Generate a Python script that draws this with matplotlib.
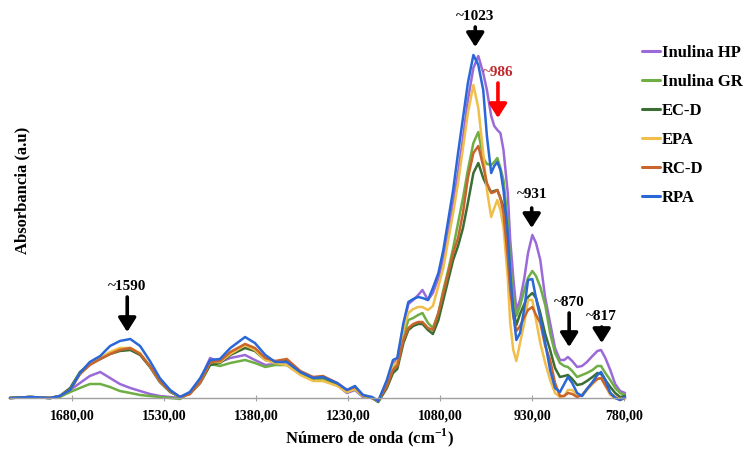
import numpy as np
import matplotlib
matplotlib.use("Agg")
import matplotlib.pyplot as plt

# ---------------- data (absorbance x 1000) ----------------
wavenumber = [1781, 1748, 1716, 1700, 1683, 1667, 1651, 1634, 1618, 1602,
              1585, 1569, 1553, 1537, 1520, 1504, 1488, 1471, 1455, 1439,
              1422, 1398, 1382, 1365, 1349, 1330, 1308, 1287, 1271, 1248,
              1232, 1219, 1206, 1191, 1181, 1167, 1157, 1150, 1140, 1132,
              1124, 1116, 1109, 1100, 1092, 1083, 1075, 1067, 1059, 1051,
              1043, 1035, 1026, 1018, 1010, 1004, 997, 992, 987, 982,
              977, 970, 966, 961, 956, 950, 943, 937, 930, 924,
              917, 909, 901, 893, 885, 878, 872, 865, 857, 849,
              841, 832, 824, 818, 811, 803, 795, 787, 779]

inulina_hp = [0, 1, 0, 1, 8, 15, 22, 26, 20, 14,
              10, 7, 4, 2, 1, 0, 5, 18, 40, 36,
              40, 43, 38, 33, 34, 33, 24, 18, 19, 13,
              5, 8, 1, 0, -3, 16, 34, 38, 72, 94,
              98, 103, 108, 98, 105, 120, 140, 165, 195, 225,
              260, 298, 330, 342, 325, 308, 282, 272, 268, 265,
              248, 205, 158, 120, 88, 98, 120, 145, 163, 155,
              138, 100, 75, 50, 38, 38, 41, 37, 31, 32,
              36, 42, 47, 48, 40, 28, 14, 7, 5]

inulina_gr = [0, 1, 0, 1, 6, 10, 14, 14, 11, 7,
              5, 3, 2, 1, 0, -1, 5, 16, 34, 32,
              35, 38, 35, 31, 33, 33, 24, 18, 19, 13,
              6, 9, 2, 0, -3, 12, 30, 33, 62, 78,
              80, 83, 85, 75, 70, 85, 108, 128, 150, 175,
              200, 228, 255, 266, 240, 234, 233, 236, 240, 230,
              218, 175, 135, 100, 82, 92, 108, 120, 127, 122,
              111, 93, 65, 45, 35, 32, 31, 27, 21, 23,
              25, 28, 32, 32, 25, 18, 10, 5, 3]

ec_d = [0, 1, 0, 2, 10, 26, 34, 39, 44, 47,
        48, 43, 31, 16, 6, 1, 4, 15, 33, 35,
        43, 50, 47, 38, 36, 37, 26, 20, 21, 14,
        7, 10, 2, 0, -4, 10, 25, 29, 55, 68,
        72, 74, 74, 68, 64, 78, 98, 118, 138, 152,
        170, 195, 225, 235, 220, 212, 206, 207, 208, 200,
        191, 150, 115, 88, 73, 84, 94, 101, 105, 100,
        85, 64, 48, 30, 21, 22, 23, 19, 13, 14,
        17, 21, 25, 24, 18, 11, 5, 1, 2]

epa = [0, 1, 0, 2, 8, 24, 34, 40, 46, 50,
       50, 45, 32, 17, 7, 1, 4, 16, 36, 36,
       44, 53, 48, 38, 35, 33, 23, 17, 17, 12,
       6, 9, 2, 0, -3, 15, 33, 36, 68, 85,
       89, 91, 91, 88, 92, 112, 130, 158, 185, 215,
       250, 285, 313, 290, 245, 208, 181, 190, 198, 188,
       171, 120, 75, 48, 37, 55, 75, 98, 98, 78,
       55, 35, 18, 5, 1, 2, 8, 8, 3, 2,
       8, 14, 19, 20, 12, 3, 0, -1, 0]

rc_d = [0, 1, 0, 2, 8, 24, 33, 39, 44, 48,
        50, 44, 32, 17, 7, 1, 4, 16, 36, 37,
        46, 54, 50, 40, 37, 39, 27, 21, 22, 15,
        8, 11, 3, 0, -3, 12, 28, 32, 58, 70,
        74, 76, 76, 70, 68, 85, 105, 125, 145, 160,
        185, 220, 245, 252, 232, 215, 205, 206, 208, 200,
        185, 140, 108, 82, 67, 72, 81, 88, 91, 83,
        75, 52, 38, 15, 2, 2, 5, 4, 1, 3,
        9, 15, 19, 20, 13, 5, 1, -2, 0]

rpa = [0, 1, 0, 2, 8, 25, 36, 42, 52, 57,
       59, 52, 37, 20, 8, 1, 6, 20, 38, 39,
       50, 61, 55, 43, 36, 36, 26, 20, 21, 15,
       8, 12, 3, 1, -3, 18, 38, 40, 75, 96,
       99, 101, 100, 98, 110, 125, 148, 178, 208, 245,
       280, 315, 343, 333, 308, 262, 225, 232, 236, 228,
       208, 165, 125, 85, 58, 65, 90, 118, 119, 100,
       80, 55, 28, 10, 6, 14, 21, 15, 5, 2,
       9, 16, 23, 26, 18, 5, 0, -2, 1]

series_names = ["Inulina HP", "Inulina GR", "EC-D", "EPA", "RC-D", "RPA"]
series_values = [inulina_hp, inulina_gr, ec_d, epa, rc_d, rpa]
series_colors = ["#9B6AD8", "#6FAE45", "#3B6E33", "#F0BE4A", "#C8642C", "#2A68D8"]

tick_values = [1680, 1530, 1380, 1230, 1080, 930, 780]
tick_labels = ["1680,00", "1530,00", "1380,00", "1230,00", "1080,00", "930,00", "780,00"]

# peak annotations: (label, wavenumber, text_y, arrow_tail_y, arrow_tip_y, text colour, arrow colour)
peak_labels = [("~1590", 1590, 0.112, 0.101, 0.066, "black", "black"),
               ("~1023", 1023, 0.381, 0.371, 0.351, "black", "black"),
               ("~986", 986, 0.325, 0.315, 0.280, "#C0282D", "#FF0000"),
               ("~931", 931, 0.203, 0.190, 0.170, "black", "black"),
               ("~870", 870, 0.096, 0.085, 0.051, "black", "black"),
               ("~817", 817, 0.081, 0.071, 0.055, "black", "black")]

# ---------------- figure ----------------
serif = ["Liberation Serif", "DejaVu Serif"]
plt.rcParams["font.family"] = serif
plt.rcParams["font.weight"] = "bold"
plt.rcParams["mathtext.fontset"] = "custom"
plt.rcParams["mathtext.rm"] = "Liberation Serif:bold"
plt.rcParams["mathtext.bf"] = "Liberation Serif:bold"

fig = plt.figure(figsize=(7.51, 4.55), dpi=100)
ax = fig.add_axes([10 / 751, 1 - 398 / 455, 615 / 751, 360 / 455])

x = np.array(wavenumber, dtype=float)
for name, vals, col in zip(series_names, series_values, series_colors):
    ax.plot(x, np.array(vals) / 1000.0, color=col, lw=1.8, label=name,
            clip_on=False, solid_joinstyle="round", solid_capstyle="round")

ax.set_xlim(1781, 779)
ax.set_ylim(0, 0.36)

for s in ["top", "right", "left"]:
    ax.spines[s].set_visible(False)
ax.spines["bottom"].set_color("#A0A0A0")
ax.spines["bottom"].set_linewidth(1.0)
ax.set_yticks([])
ax.set_xticks(tick_values)
ax.set_xticklabels(tick_labels, fontsize=10, fontweight="bold")
ax.tick_params(axis="x", direction="inout", length=4, width=0.8,
               color="#A0A0A0", pad=6)

for lab, wn, ty, tail, tip, tcol, acol in peak_labels:
    ax.text(wn, ty, lab, ha="center", va="center", fontsize=11,
            fontweight="bold", color=tcol, clip_on=False)
    ax.annotate("", xy=(wn, tip), xytext=(wn, tail),
                arrowprops=dict(arrowstyle="-|>,head_width=0.38,head_length=0.6",
                                lw=2.6, color=acol, mutation_scale=14,
                                shrinkA=0, shrinkB=0), annotation_clip=False)

fig.text(370 / 751, 1 - 438 / 455, r"Número de onda (cm$^{\mathbf{-1}}$)",
         ha="center", va="center", fontsize=12, fontweight="bold")
fig.text(22 / 751, 1 - 190 / 455, "Absorbancia (a.u)", rotation=90,
         ha="center", va="center", fontsize=12, fontweight="bold")

leg = ax.legend(loc="upper left", bbox_to_anchor=(642 / 751, 1 - 45 / 455),
                bbox_transform=fig.transFigure, frameon=False, fontsize=12,
                handlelength=1.1, handletextpad=0.1, labelspacing=0.78,
                borderpad=0, borderaxespad=0)
for t in leg.get_texts():
    t.set_fontweight("bold")
for h in leg.get_lines():
    h.set_linewidth(2.2)

fig.savefig("out.png", dpi=100)
